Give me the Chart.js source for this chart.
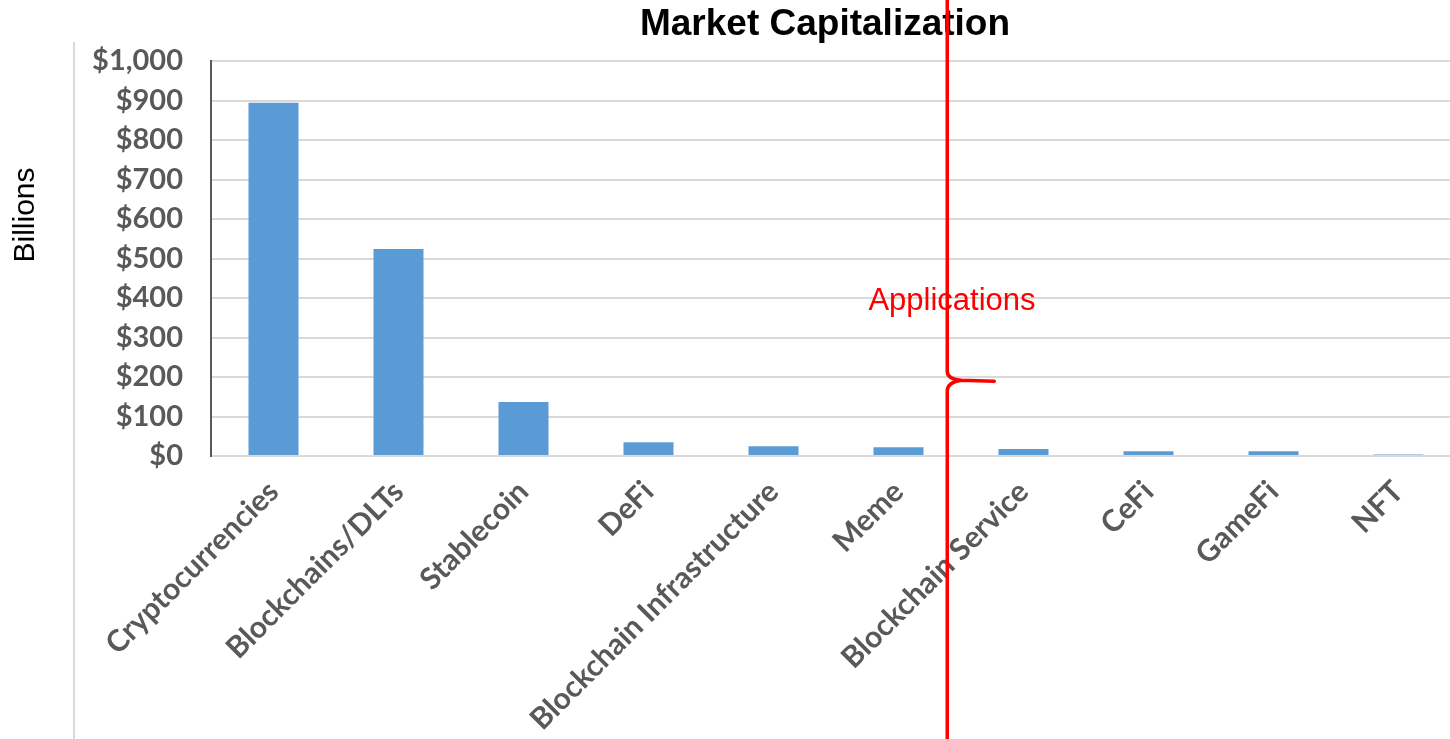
<!DOCTYPE html>
<html>
<head>
<meta charset="utf-8">
<script src="https://cdn.jsdelivr.net/npm/chart.js@4.4.1/dist/chart.umd.min.js"></script>
<style>
  html,body{margin:0;padding:0;background:#fff;overflow:hidden;}
  #wrap{width:1470px;height:739px;}
</style>
</head>
<body>
<div id="wrap"><canvas id="chart" width="1470" height="739"></canvas></div>
<script>
// данные
const categories = ['Cryptocurrencies','Blockchains/DLTs','Stablecoin','DeFi','Blockchain Infrastructure',
                    'Meme','Blockchain Service','CeFi','GameFi','NFT'];
const marketCap  = [894, 524, 137, 35, 25, 22, 18, 12, 12, 4]; // млрд $
const yTicks     = [0,100,200,300,400,500,600,700,800,900,1000];

const chartTitle  = 'Market Capitalization';
const yAxisLabel  = 'Billions';
const braceLabel  = 'Applications';
const braceAt     = 5.39;  // между Meme и Blockchain Service
const braceValue  = 192;

// надписи, разделитель и красная скобка
const extras = {
  id:'extras',
  afterDraw(chart){
    const ctx = chart.ctx;
    const xs = chart.scales.x, ys = chart.scales.y;
    ctx.save();

    // серая линия слева
    ctx.strokeStyle='#d9d9d9';
    ctx.lineWidth=2;
    ctx.beginPath();
    ctx.moveTo(74,42); ctx.lineTo(74,739);
    ctx.stroke();

    // Billions
    ctx.fillStyle='#000';
    ctx.font='30px "Liberation Sans", Arial, sans-serif';
    ctx.textAlign='center';
    ctx.textBaseline='middle';
    ctx.translate(26,215);
    ctx.rotate(-Math.PI/2);
    ctx.fillText(yAxisLabel,0,0);
    ctx.setTransform(1,0,0,1,0,0);

    // заголовок
    ctx.font='bold 37px "Liberation Sans", Arial, sans-serif';
    ctx.fillText(chartTitle,825,25);

    // Applications
    ctx.fillStyle='#ff0000';
    ctx.font='31px "Liberation Sans", Arial, sans-serif';
    ctx.fillText(braceLabel,952,301);

    // скобка
    const x = xs.getPixelForValue(braceAt);
    const ty = ys.getPixelForValue(braceValue);
    ctx.strokeStyle='#ff0000';
    ctx.lineWidth=3.5;
    ctx.lineCap='round';
    ctx.lineJoin='round';
    ctx.beginPath();
    ctx.moveTo(x,0);
    ctx.lineTo(x,ty-9);
    ctx.quadraticCurveTo(x,ty-1,x+14,ty);
    ctx.lineTo(x+47,ty+1);
    ctx.moveTo(x+14,ty);
    ctx.quadraticCurveTo(x,ty+2,x,ty+11);
    ctx.lineTo(x,739);
    ctx.stroke();
    ctx.restore();
  }
};

new Chart(document.getElementById('chart').getContext('2d'), {
  type:'bar',
  data:{
    labels: categories,
    datasets:[{
      label:'Market Cap',
      data: marketCap,
      backgroundColor:'#5b9bd5',
      categoryPercentage:1,
      barPercentage:0.4
    }]
  },
  options:{
    responsive:false,
    animation:false,
    layout:{ padding:{left:0, top:61, right:9, bottom:0} },
    plugins:{ legend:{display:false}, title:{display:false}, tooltip:{enabled:false} },
    scales:{
      x:{
        grid:{display:false},
        border:{display:false},
        ticks:{
          autoSkip:false, minRotation:45, maxRotation:45,
          color:'#595959', font:{family:'Lato', weight:'bold', size:30}, padding:10
        },
        afterFit(s){ s.height = 283; }
      },
      y:{
        min:0, max:1000,
        afterBuildTicks(s){ s.ticks = yTicks.map(v=>({value:v})); },
        grid:{color:'#d9d9d9', lineWidth:2, drawTicks:false},
        border:{display:true, color:'#595959', width:2},
        ticks:{
          color:'#595959', font:{family:'Lato', weight:'bold', size:29}, padding:28,
          callback:v=>'$'+v.toLocaleString('en-US')
        },
        afterFit(s){ s.width = 211; }
      }
    }
  },
  plugins:[extras]
});
</script>
</body>
</html>
